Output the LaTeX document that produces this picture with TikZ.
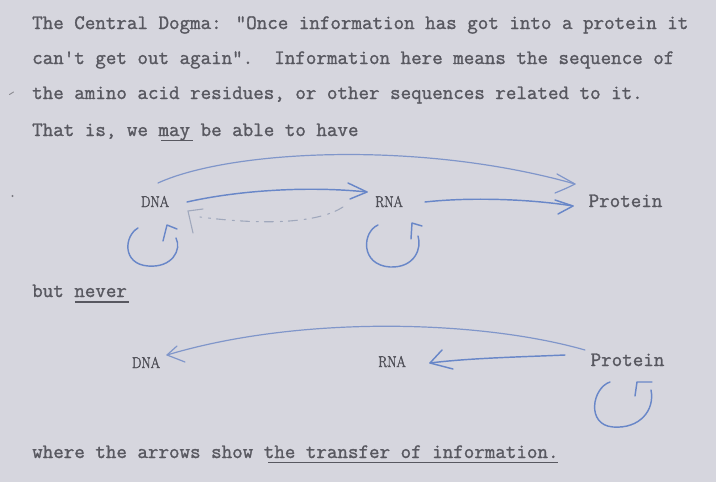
\documentclass[tikz,border=0pt]{standalone}
\usepackage{fontspec}
\usepackage{graphicx}
\usetikzlibrary{calc}
\newfontfamily\twr{Latin Modern Mono}[FakeBold=1.3]
\newfontfamily\labf{Latin Modern Roman}[FakeBold=2.6]
\definecolor{bg}{RGB}{214,214,222}
\definecolor{ink}{RGB}{88,88,96}
\definecolor{labink}{RGB}{80,80,88}
\definecolor{pen}{RGB}{105,135,200}
\definecolor{penlight}{RGB}{128,150,202}
\definecolor{dashc}{RGB}{160,168,188}
\tikzset{
  tt/.style={font=\fontsize{20.44}{24}\selectfont\twr, text=ink, inner sep=0pt, anchor=base west},
  lab/.style={font=\fontsize{15.5}{18}\selectfont\labf, text=labink, inner sep=0pt, anchor=base},
  ttlab/.style={font=\fontsize{20.44}{24}\selectfont\twr, text=ink, inner sep=0pt, anchor=base},
  pen/.style={draw=pen, line width=1.45pt, line cap=round, line join=round},
  penl/.style={draw=penlight, line width=1.2pt, line cap=round, line join=round},
  dashline/.style={draw=dashc, line width=1.1pt, line cap=round, dash pattern=on 9pt off 6pt on 2pt off 7pt},
  uline/.style={draw=ink, line width=1.4pt}
}
\begin{document}
\begin{tikzpicture}[x=1pt,y=1pt]
\fill[bg] (0,0) rectangle (716,-482);
\useasboundingbox (0,0) rectangle (716,-482);

% typed text
\node[tt] (l1) at (32,-29) {The Central Dogma: "Once information has got into a protein it};
\node[tt] (l2) at (32,-64) {can't get out again".\ \ Information here means the sequence of};
\node[tt] (l3) at (32,-99) {the amino acid residues, or other sequences related to it.};
\node[tt] (l4) at (32,-136) {That is, we may be able to have};
\node[tt] (l5) at (32,-297) {but never};
\node[tt] (l6) at (32,-458) {where the arrows show the transfer of information.};

% underlines
\draw[uline] ($(l4.base west)+(128.8,-4.5)$) -- +(32.2,0);
\draw[uline] ($(l5.base west)+(42.9,-5)$) -- +(53.7,0);
\draw[uline] ($(l6.base west)+(236,-4.5)$) -- +(289.8,0);

% stray marks
\draw[ink!70, line width=0.9pt, line cap=round] (9.5,-94.5) -- (13.5,-92);
\fill[ink!80] (12.5,-196) circle (1.2);

% labels, upper diagram
\node[lab] (dna1) at (155,-207) {\scalebox{0.86}[1]{DNA}};
\node[lab] (rna1) at (389,-207) {\scalebox{0.86}[1]{RNA}};
\node[ttlab] (prot1) at (625.5,-207) {Protein};

% labels, lower diagram
\node[lab] (dna2) at (146,-368) {\scalebox{0.86}[1]{DNA}};
\node[lab] (rna2) at (392,-367) {\scalebox{0.86}[1]{RNA}};
\node[ttlab] (prot2) at (627.5,-366) {Protein};

% tip coordinates
\coordinate (tA) at ($(rna1.base)+(-22,15)$);
\coordinate (tB) at ($(prot1.base)+(-50.5,23)$);
\coordinate (tC) at ($(prot1.base)+(-52.5,1)$);
\coordinate (tF) at ($(dna1.base)+(45,-10)$);
\coordinate (tD) at ($(dna2.base)+(21,13)$);
\coordinate (tE) at ($(rna2.base)+(38,4)$);

% DNA -> RNA
\draw[pen] ($(dna1.base)+(32,5)$) .. controls (240,-190) and (310,-186) .. (tA);
\draw[pen] ($(tA)+(-19,9)$) -- (tA) -- ($(tA)+(-17,-7)$);
% DNA -> Protein
\draw[penl] ($(dna1.base)+(3,24)$) .. controls (230,-150) and (420,-140) .. (tB);
\draw[penl] ($(tB)+(-18,10)$) -- (tB) .. controls ($(tB)+(-8,-4)$) .. ($(tB)+(-20,-9)$);
% RNA -> Protein
\draw[pen] ($(rna1.base)+(36,5)$) .. controls (470,-197) and (530,-199) .. (tC);
\draw[pen] ($(tC)+(-18,6)$) -- (tC) -- ($(tC)+(-15,-8)$);
% RNA -> DNA (dashed)
\draw[dashline] ($(rna1.base)+(-46,0)$) .. controls (320,-222) and (270,-226) .. (tF);
\draw[draw=dashc, line width=1.1pt, line cap=round] ($(tF)+(3,8)$) -- ($(tF)+(-12,6)$) -- ($(tF)+(-7,-16)$);

% self loops
\begin{scope}[shift={(dna1.base)}]
  \draw[pen] (-17,-21) .. controls (-31,-29) and (-33,-57) .. (-7,-59)
             .. controls (17,-61) and (27,-43) .. (21,-31);
  \draw[pen] (8,-34) -- (12,-18) -- (22,-22);
\end{scope}
\begin{scope}[shift={(rna1.base)}]
  \draw[pen] (-11,-18) .. controls (-27,-25) and (-29,-58) .. (1,-60)
             .. controls (26,-61) and (33,-41) .. (29,-29);
  \draw[pen] (22,-32) -- (23,-16) -- (33,-19);
\end{scope}
\begin{scope}[shift={(prot2.base)}]
  \draw[pen] (-17.5,-16) .. controls (-35.5,-22) and (-41.5,-59) .. (-14.5,-61)
             .. controls (12.5,-63) and (27.5,-44) .. (23.5,-24);
  \draw[pen] (7.5,-30) -- (9.5,-16) -- (24.5,-16);
\end{scope}

% lower: Protein -> DNA
\draw[penl] ($(prot2.base)+(-42.5,16)$) .. controls (480,-320) and (300,-315) .. (tD);
\draw[penl] ($(tD)+(10,9)$) -- (tD) -- ($(tD)+(18,-7)$);
% lower: Protein -> RNA
\draw[pen] ($(prot2.base)+(-62.5,11)$) .. controls (520,-357) and (470,-358) .. (tE);
\draw[pen] ($(tE)+(12,13)$) -- (tE) -- ($(tE)+(23,-6)$);
\end{tikzpicture}
\end{document}
